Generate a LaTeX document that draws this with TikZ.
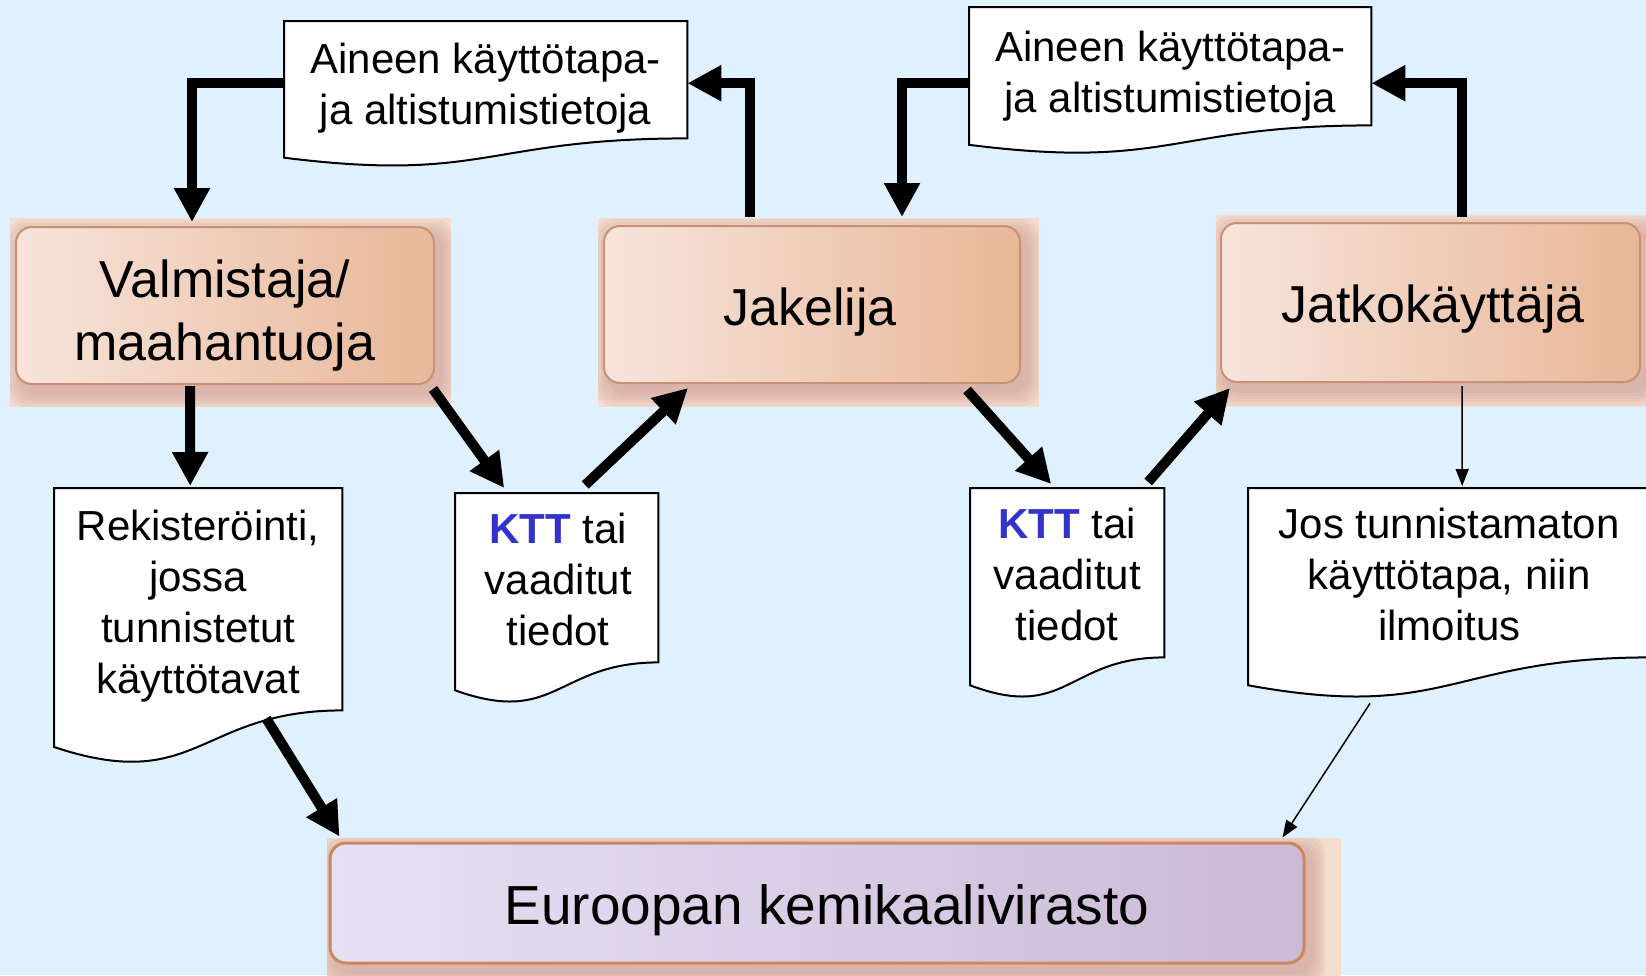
\documentclass[tikz,border=0pt]{standalone}
\usepackage{fontspec}
\setmainfont{Liberation Sans}
\usetikzlibrary{arrows.meta,calc}
\pgfdeclarelayer{background}
\pgfsetlayers{background,main}
\definecolor{bgblue}{RGB}{223,241,255}
\definecolor{glowpeach}{RGB}{244,221,206}
\definecolor{peachL}{RGB}{247,228,219}
\definecolor{peachR}{RGB}{232,183,152}
\definecolor{peachline}{RGB}{200,145,118}
\definecolor{shadowc}{RGB}{196,140,135}
\definecolor{lavL}{RGB}{229,225,243}
\definecolor{lavR}{RGB}{204,185,214}
\definecolor{lavline}{RGB}{205,135,95}
\definecolor{kttblue}{RGB}{51,51,204}
\tikzset{
  bigbox/.style={draw=peachline, line width=2pt, rounded corners=16pt, left color=peachL, right color=peachR, inner sep=0pt},
  agencybox/.style={draw=lavline, line width=3pt, rounded corners=16pt, left color=lavL, right color=lavR, inner sep=0pt},
  docarea/.style={inner sep=0pt, anchor=north west},
  docline/.style={draw=black, line width=2pt, fill=white},
  bigtext/.style={anchor=base, inner sep=0pt, font=\fontsize{52}{63}\selectfont},
  agencytext/.style={anchor=base, inner sep=0pt, font=\fontsize{55}{66}\selectfont},
  doctext/.style={anchor=base, inner sep=0pt, font=\fontsize{42}{51}\selectfont},
  fatarrow/.style={line width=10pt, -{Triangle[length=34pt,width=34pt]}},
  thinarrow/.style={line width=1.5pt, -{Triangle[length=17pt,width=13pt]}},
}
\newcommand\docout[2]{\path[docline] (#1.north west) -- (#1.north east) -- (#1.south east) .. controls (#1.south) and ($(#1.south)+(0,0.3055*#2)$) .. ($(#1.south west)+(0,0.132*#2)$) -- cycle;}
\newcommand\softshadow[1]{%
  \foreach \s in {14,11,8,5,2}{
    \fill[shadowc, opacity=0.12, rounded corners=18pt] ($(#1.north west)+(6-\s,8-\s)$) rectangle ($(#1.south east)+(6+\s,8+\s)$);
  }}
\newcommand\glowbox[5]{%
  \begin{scope}
    \clip (#2,#3) rectangle (#4,#5);
    \fill[glowpeach] (#2,#3) rectangle (#4,#5);
    \softshadow{#1}
  \end{scope}}
\begin{document}
\begin{tikzpicture}[x=1pt,y=-1pt]
\begin{pgfonlayer}{background}
  \fill[bgblue] (0,0) rectangle (1646,975);
\end{pgfonlayer}
\useasboundingbox (0,0) rectangle (1646,975);

% main boxes
\node[bigbox, minimum width=418pt, minimum height=157pt] (val) at (225,305.5) {};
\node[bigtext] (valtext) at ($(val.center)+(0,-8.5)$) {\begin{tabular}[t]{@{}c@{}}Valmistaja/\\maahantuoja\end{tabular}};
\node[bigbox, minimum width=416pt, minimum height=157pt] (jak) at (812,304.5) {};
\node[bigtext] (jaktext) at ($(jak.center)+(-2,20.5)$) {Jakelija};
\node[bigbox, minimum width=419pt, minimum height=159pt] (jat) at (1430.5,302.5) {};
\node[bigtext] (jattext) at ($(jat.center)+(2.5,19.5)$) {Jatkokäyttäjä};
\node[agencybox, minimum width=974pt, minimum height=120pt] (eur) at (817,903) {};
\node[agencytext] (eurtext) at ($(eur.center)+(10,21)$) {Euroopan kemikaalivirasto};

% glows and shadows
\begin{pgfonlayer}{background}
  \glowbox{val}{10}{218}{451}{407}
  \glowbox{jak}{598}{218}{1039}{407}
  \glowbox{jat}{1216}{215}{1660}{407}
  \glowbox{eur}{327}{838}{1341}{980}
\end{pgfonlayer}

% documents
\node[docarea, minimum width=403pt, minimum height=117pt] (d1) at (284,21) {};
\docout{d1}{146}
\node[doctext] (d1text) at ($(d1.north)+(0,52)$) {\begin{tabular}[t]{@{}c@{}}Aineen käyttötapa-\\ja altistumistietoja\end{tabular}};

\node[docarea, minimum width=402pt, minimum height=118pt] (d2) at (969,7) {};
\docout{d2}{147}
\node[doctext] (d2text) at ($(d2.north)+(0,54)$) {\begin{tabular}[t]{@{}c@{}}Aineen käyttötapa-\\ja altistumistietoja\end{tabular}};

\node[docarea, minimum width=288pt, minimum height=222pt] (d3) at (54,488) {};
\docout{d3}{277}
\node[doctext] (d3text) at ($(d3.north)+(0,52)$) {\begin{tabular}[t]{@{}c@{}}Rekisteröinti,\\jossa\\tunnistetut\\käyttötavat\end{tabular}};

\node[docarea, minimum width=203pt, minimum height=169pt] (d4) at (455,493) {};
\docout{d4}{211}
\node[doctext] (d4text) at ($(d4.north)+(1.5,50)$) {\begin{tabular}[t]{@{}c@{}}{\bfseries\color{kttblue}KTT} tai\\vaaditut\\tiedot\end{tabular}};

\node[docarea, minimum width=194pt, minimum height=169pt] (d5) at (970,488) {};
\docout{d5}{211}
\node[doctext] (d5text) at ($(d5.north)+(0,50)$) {\begin{tabular}[t]{@{}c@{}}{\bfseries\color{kttblue}KTT} tai\\vaaditut\\tiedot\end{tabular}};

\node[docarea, minimum width=402pt, minimum height=169pt] (d6) at (1248,488) {};
\docout{d6}{211}
\node[doctext] (d6text) at ($(d6.north)+(0,50)$) {\begin{tabular}[t]{@{}c@{}}Jos tunnistamaton\\käyttötapa, niin\\ilmoitus\end{tabular}};

% connectors
\draw[fatarrow] ($(d1.west)+(0,3.5)$) -| ($(val.north)+(-33,-4)$);
\draw[fatarrow] ($(jak.north)+(-62,-8)$) |- ($(d1.east)+(0,3.5)$);
\draw[fatarrow] ($(jat.north)+(31.5,-5)$) |- ($(d2.east)+(0,17)$);
\draw[fatarrow] ($(d2.west)+(0,17)$) -| ($(jak.north)+(90,-8)$);
\draw[fatarrow] ($(val.south)+(-35,1)$) -- ($(d3.north)+(-8,-2)$);
\draw[fatarrow] ($(val.south east)+(-2,4)$) -- ($(d4.north)+(-52.5,-5)$);
\draw[fatarrow] ($(d4.north)+(28.5,-8)$) -- ($(jak.south west)+(85,4)$);
\draw[fatarrow] ($(jak.south east)+(-54,6)$) -- ($(d5.north)+(-16,-4)$);
\draw[fatarrow] ($(d5.north)+(81,-6)$) -- ($(jat.south west)+(10,5)$);
\draw[thinarrow] ($(jat.south)+(31.5,3)$) -- ($(d6.north)+(13,-2)$);
\draw[thinarrow] ($(d6.south west)+(122,46)$) -- ($(eur.north east)+(-23,-4)$);
\draw[fatarrow] ($(d3.south)+(68,8)$) -- ($(eur.north west)+(11,-5)$);
\end{tikzpicture}
\end{document}
